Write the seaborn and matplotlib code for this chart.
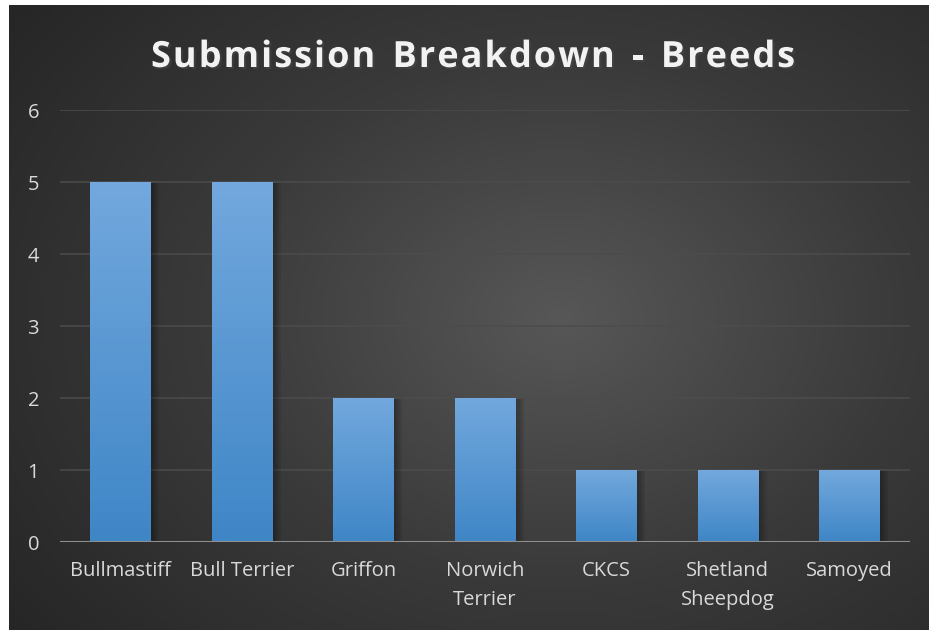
import numpy as np
import pandas as pd
import seaborn as sns
import matplotlib.pyplot as plt
import matplotlib.patheffects as pe
from matplotlib.colors import LinearSegmentedColormap

breeds = ["Bullmastiff", "Bull Terrier", "Griffon", "Norwich\nTerrier", "CKCS",
          "Shetland\nSheepdog", "Samoyed"]
submissions = [5, 5, 2, 2, 1, 1, 1]
y_ticks = [0, 1, 2, 3, 4, 5, 6]
title = "Submission Breakdown - Breeds"

df = pd.DataFrame({"breed": breeds, "count": submissions})

sns.set_theme(style="white")
plt.rcParams["font.family"] = ["Open Sans", "DejaVu Sans"]

fig = plt.figure(figsize=(9.3, 6.3), dpi=100)
fig.patch.set_facecolor("white")

# dark radial background (chart area leaves a thin white margin top/left)
bg = fig.add_axes([9 / 930, 0, 919 / 930, 625 / 630], zorder=0)
yy, xx = np.mgrid[0:1:300j, 0:1:440j]
r = np.sqrt(((xx - 0.6) / 1.0) ** 2 + ((yy - 0.5) / 1.1) ** 2)
bg_cmap = LinearSegmentedColormap.from_list("bg", ["#575757", "#3a3a3a", "#262626"])
bg.imshow(r, cmap=bg_cmap, aspect="auto", extent=[0, 1, 0, 1], vmin=0, vmax=0.75)
bg.set_axis_off()

ax = fig.add_axes([60 / 930, 88 / 630, 850 / 930, 432 / 630], zorder=1)
ax.patch.set_alpha(0)

sns.barplot(data=df, x="breed", y="count", color="#5b9bd5", width=0.5, ax=ax,
            saturation=1, zorder=3, linewidth=0, edgecolor="none")

ax.set_yticks(y_ticks)
ax.set_yticklabels([str(t) for t in y_ticks])
for t in y_ticks[1:]:
    ax.axhline(t, color="#4c4c4c", lw=1.1, zorder=1)
ax.axhline(0, color="#8f8f8f", lw=2.2, zorder=4)

# gradient fill on each bar, with a soft shadow to the right
grad = np.linspace(1, 0, 100).reshape(-1, 1)
bar_cmap = LinearSegmentedColormap.from_list("bar", ["#3f86c7", "#72a8dd"])
for p in ax.patches:
    x0, y0 = p.get_x(), p.get_y()
    w, h = p.get_width(), p.get_height()
    p.set_path_effects([pe.SimplePatchShadow(offset=(o, -0.5), shadow_rgbFace="black", alpha=0.08)
                        for o in (1.5, 3, 4.5, 6)] + [pe.Normal()])
    im = ax.imshow(grad, cmap=bar_cmap, aspect="auto", extent=[x0, x0 + w, y0, y0 + h],
                   vmin=0, vmax=1, zorder=3.5)
    im.set_clip_path(p)
ax.set_xlim(-0.5, len(breeds) - 0.5)
ax.set_ylim(0, 6)

for s in ax.spines.values():
    s.set_visible(False)
ax.set_xlabel("")
ax.set_ylabel("")
ax.tick_params(axis="both", length=0, colors="#d9d9d9", labelsize=14.5)
ax.tick_params(axis="y", pad=15)
ax.tick_params(axis="x", pad=14)
for lab in ax.get_xticklabels():
    lab.set_linespacing(1.6)

# title with letter spacing: place each character separately
renderer = fig.canvas.get_renderer()
kw = dict(fontsize=26, fontweight="bold", color="#f2f2f2", va="baseline", ha="left",
          path_effects=[pe.withSimplePatchShadow(offset=(1.5, -1.5), alpha=0.5)])
spacing = 2.0
widths = []
for ch in title:
    t = fig.text(0, 0, ch if ch != " " else "n", **kw)
    bb = t.get_window_extent(renderer)
    widths.append(bb.width * (0.55 if ch == " " else 1.0))
    t.remove()
total = sum(widths) + spacing * (len(title) - 1)
x = 473 - total / 2
for ch, w in zip(title, widths):
    if ch != " ":
        fig.text(x / 930, 1 - 67 / 630, ch, **kw)
    x += w + spacing

fig.savefig("out.png", dpi=100)
